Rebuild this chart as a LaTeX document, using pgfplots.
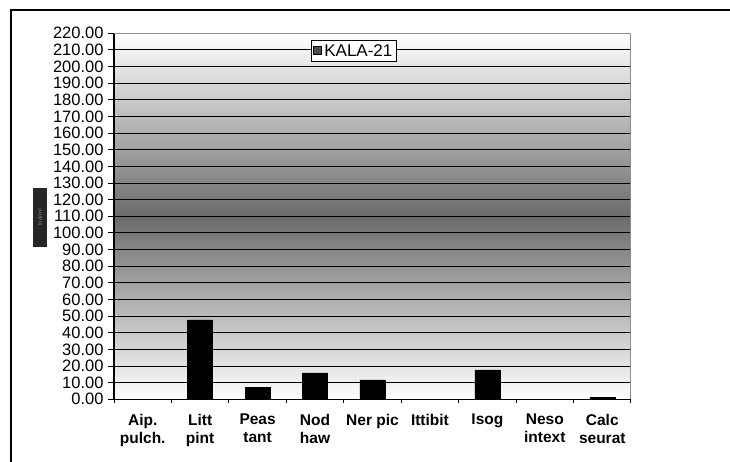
\documentclass[border=0pt]{standalone}
\usepackage{fontspec}
\setmainfont{Liberation Sans}
\usepackage{pgfplots}
\pgfplotsset{compat=1.18}
\begin{document}
\begin{tikzpicture}[x=1pt,y=1pt]
\useasboundingbox (0,0) rectangle (730,462);
\draw[line width=2pt] (10.5,-5) -- (10.5,452) -- (735,452);
\begin{axis}[
  at={(114pt,62.7pt)}, anchor=south west,
  scale only axis, width=517pt, height=366pt,
  xmin=-0.5, xmax=8.5, ymin=0, ymax=220,
  axis x line*=bottom, axis y line*=left,
  axis line style={-, line width=1.2pt, black},
  axis background/.style={shade, top color=white, bottom color=white, middle color=black!58},
  ytick={0,10,...,220},
  /pgf/number format/fixed, /pgf/number format/fixed zerofill, /pgf/number format/precision=2,
  /pgf/number format/assume math mode=true,
  yticklabel style={font=\fontsize{16.5}{18}\selectfont, xshift=-1pt},
  xtick={0,...,8},
  xticklabels={{Aip.\\pulch.},{Litt\\pint},{Peas\\tant},{Nod\\haw},{Ner pic},{Ittibit},{Isog},{Neso\\intext},{Calc\\seurat}},
  xticklabel style={align=center, font=\bfseries\fontsize{15.5}{18.5}\selectfont, yshift=-5pt},
  major x tick style={draw=none},
  minor xtick={-0.5,0.5,...,8.5},
  tick align=outside,
  major tick length=6pt, minor tick length=4pt,
  tick style={black, line width=1pt},
  ymajorgrids, grid style={black, line width=0.9pt},
  ybar, bar width=25pt,
  legend style={at={(0.464,0.952)}, anchor=center, draw=black, line width=1pt,
    font=\fontsize{17}{19}\selectfont, fill=white, inner xsep=2pt, inner ysep=2pt},
  legend image code/.code={\draw[black, fill=black!70, line width=1pt] (0pt,-4pt) rectangle (8pt,4pt);},
]
\addplot[fill=black, draw=black] coordinates {(0,0) (1,47.8) (2,7.3) (3,15.9) (4,11.6) (5,0) (6,17.7) (7,0) (8,1.3)};
\addlegendentry{KALA-21}
\draw[gray!90, line width=1.5pt] (rel axis cs:0,1) -- (rel axis cs:1,1) -- (rel axis cs:1,0);
\end{axis}
\node[fill=black!85, rotate=90, minimum width=59pt, minimum height=14pt, inner sep=0pt, text=gray, font=\fontsize{6}{7}\selectfont] at (40,244.5) {Ind/m²};
\end{tikzpicture}
\end{document}
